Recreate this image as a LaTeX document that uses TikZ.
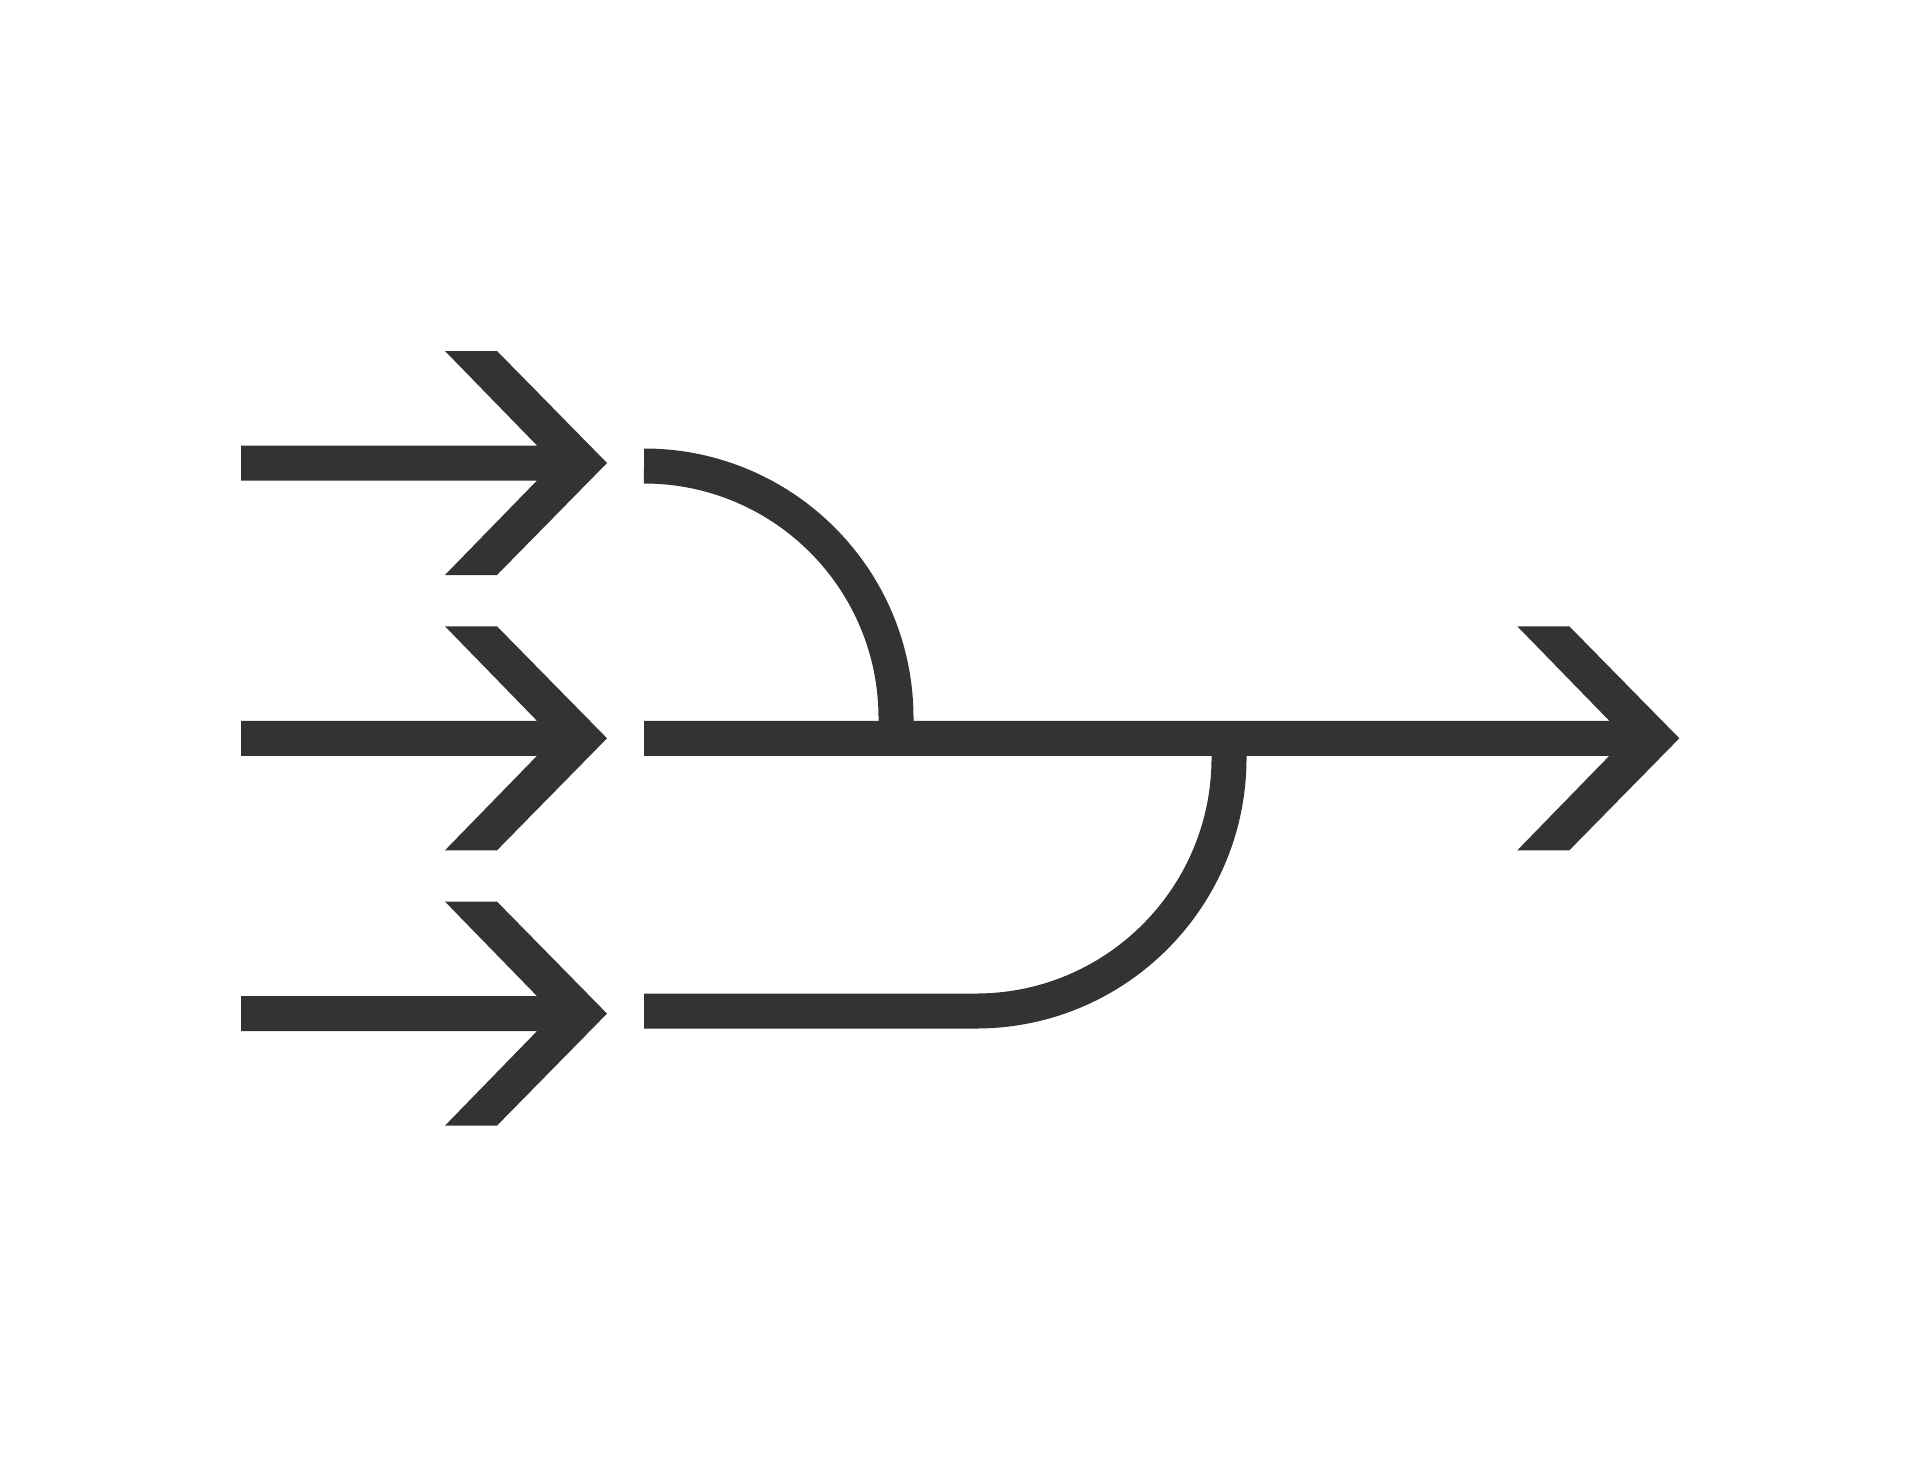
\documentclass[tikz,border=0pt]{standalone}
\definecolor{ink}{HTML}{333333}
\newcommand\myarrow[3]{%
  \fill[ink] ({#1},{#3-17.5}) -- ({#2-70},{#3-17.5}) -- ({#2-162},{#3-112}) -- ({#2-110},{#3-112})
    -- ({#2},{#3}) -- ({#2-110},{#3+112}) -- ({#2-162},{#3+112}) -- ({#2-70},{#3+17.5})
    -- ({#1},{#3+17.5}) -- cycle;}
\tikzset{band/.style={draw=ink, line width=17.5pt, line cap=butt, line join=round}}
\begin{document}
\begin{tikzpicture}[x=0.5pt,y=-0.5pt]
\useasboundingbox[fill=white] (0,0) rectangle (1920,1477);
\myarrow{241}{607}{463}
\myarrow{241}{607}{738.3}
\myarrow{241}{607}{1013.6}
\myarrow{644}{1679.3}{738.3}
\coordinate (topstart) at (644,466);
\coordinate (botstart) at (1229,740);
\coordinate (botend) at (644,1011);
\draw[band] (topstart) arc[start angle=90, end angle=0, radius=126pt] -- ++(0,12);
\draw[band] (botstart) -- (1229,758) arc[start angle=0, end angle=-90, radius=126.5pt] -- (botend);
\end{tikzpicture}
\end{document}
